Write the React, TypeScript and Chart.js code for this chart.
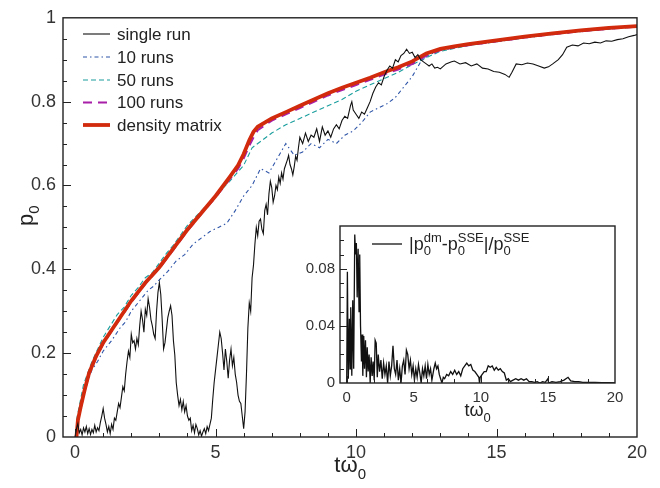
import React, { useEffect, useRef } from "react";
import { Chart, registerables } from "chart.js";
Chart.register(...registerables);

const FONT = "'Liberation Sans', Arial, Helvetica, sans-serif";
const TEXT = "#222";

// ---------- main chart data ----------
const mainXTicks = [0, 5, 10, 15, 20];
const mainXTickLabels = ["0", "5", "10", "15", "20"];
const mainYTicks = [0, 0.2, 0.4, 0.6, 0.8, 1];
const mainYTickLabels = ["0", "0.2", "0.4", "0.6", "0.8", "1"];

const seriesNames = ["single run", "10 runs", "50 runs", "100 runs", "density matrix"];

const singleX = [0, 0.05, 0.1, 0.15, 0.2, 0.25, 0.3, 0.35, 0.4, 0.45, 0.5, 0.55, 0.6, 0.65, 0.7, 0.75, 0.8, 0.85, 0.9, 0.95, 1.0, 1.05, 1.1, 1.15, 1.2, 1.25, 1.3, 1.35, 1.4, 1.45, 1.5, 1.55, 1.6, 1.65, 1.7, 1.75, 1.8, 1.85, 1.9, 1.95, 2.0, 2.05, 2.1, 2.15, 2.2, 2.25, 2.3, 2.35, 2.4, 2.45, 2.5, 2.55, 2.6, 2.65, 2.7, 2.75, 2.8, 2.85, 2.9, 2.95, 3.0, 3.05, 3.1, 3.15, 3.2, 3.25, 3.3, 3.35, 3.4, 3.45, 3.5, 3.55, 3.6, 3.65, 3.7, 3.75, 3.8, 3.85, 3.9, 3.95, 4.0, 4.05, 4.1, 4.15, 4.2, 4.25, 4.3, 4.35, 4.4, 4.45, 4.5, 4.55, 4.6, 4.65, 4.7, 4.75, 4.8, 4.85, 4.9, 4.95, 5.0, 5.05, 5.1, 5.15, 5.2, 5.25, 5.3, 5.35, 5.4, 5.45, 5.5, 5.55, 5.6, 5.65, 5.7, 5.75, 5.8, 5.85, 5.9, 5.95, 6.0, 6.05, 6.1, 6.15, 6.2, 6.25, 6.3, 6.35, 6.4, 6.45, 6.5, 6.55, 6.6, 6.65, 6.7, 6.75, 6.8, 6.85, 6.9, 6.95, 7.0, 7.05, 7.1, 7.15, 7.2, 7.25, 7.3, 7.35, 7.4, 7.45, 7.5, 7.55, 7.6, 7.65, 7.7, 7.75, 7.8, 7.85, 7.9, 7.95, 8.0, 8.1, 8.2, 8.3, 8.4, 8.5, 8.6, 8.7, 8.8, 8.9, 9.0, 9.1, 9.2, 9.3, 9.4, 9.5, 9.6, 9.7, 9.8, 9.85, 9.9, 10.0, 10.1, 10.2, 10.3, 10.4, 10.5, 10.6, 10.7, 10.8, 10.9, 11.0, 11.1, 11.2, 11.3, 11.4, 11.5, 11.6, 11.7, 11.8, 11.9, 12.0, 12.1, 12.2, 12.3, 12.4, 12.5, 12.6, 12.7, 12.8, 12.9, 13.0, 13.2, 13.4, 13.5, 13.7, 13.9, 14.1, 14.3, 14.5, 14.7, 14.9, 15.1, 15.3, 15.45, 15.55, 15.7, 15.9, 16.1, 16.3, 16.5, 16.7, 16.85, 17.0, 17.2, 17.35, 17.5, 17.7, 17.9, 18.1, 18.3, 18.5, 18.7, 18.9, 19.1, 19.3, 19.5, 19.7, 19.9, 20.0];
const singleY = [0.0, 0.02, 0.032, 0.01, 0.018, 0.005, 0.022, 0.012, 0.025, 0.008, 0.02, 0.006, 0.018, 0.01, 0.028, 0.012, 0.022, 0.015, 0.035, 0.05, 0.068, 0.045, 0.03, 0.012, 0.025, 0.008, 0.03, 0.018, 0.045, 0.04, 0.06, 0.08, 0.07, 0.095, 0.12, 0.11, 0.15, 0.18, 0.205, 0.19, 0.245, 0.225, 0.23, 0.21, 0.235, 0.22, 0.265, 0.3, 0.28, 0.25, 0.305, 0.29, 0.33, 0.31, 0.28, 0.265, 0.245, 0.235, 0.3, 0.345, 0.368, 0.34, 0.28, 0.21, 0.225, 0.255, 0.285, 0.3, 0.313, 0.29, 0.23, 0.195, 0.13, 0.1, 0.075, 0.09, 0.065, 0.085, 0.06, 0.075, 0.05, 0.04, 0.045, 0.015, 0.028, 0.01, 0.03, 0.02, 0.005, 0.015, 0.002, 0.012, 0.02, 0.008, 0.025, 0.015, 0.03, 0.045, 0.09, 0.13, 0.16, 0.19, 0.22, 0.25, 0.235, 0.2, 0.16, 0.21, 0.18, 0.14, 0.185, 0.21, 0.17, 0.19, 0.15, 0.13, 0.1, 0.085, 0.08, 0.05, 0.02, 0.06, 0.15, 0.26, 0.32, 0.3, 0.38, 0.41, 0.46, 0.5, 0.48, 0.515, 0.52, 0.495, 0.485, 0.54, 0.555, 0.53, 0.58, 0.61, 0.595, 0.56, 0.575, 0.6, 0.59, 0.62, 0.605, 0.63, 0.615, 0.64, 0.65, 0.66, 0.672, 0.65, 0.64, 0.625, 0.645, 0.67, 0.66, 0.69, 0.715, 0.7, 0.725, 0.705, 0.72, 0.715, 0.735, 0.705, 0.74, 0.72, 0.73, 0.715, 0.735, 0.745, 0.735, 0.755, 0.765, 0.76, 0.79, 0.8, 0.78, 0.77, 0.76, 0.775, 0.77, 0.785, 0.8, 0.82, 0.835, 0.845, 0.84, 0.86, 0.875, 0.885, 0.88, 0.9, 0.895, 0.91, 0.915, 0.925, 0.915, 0.918, 0.905, 0.912, 0.9, 0.895, 0.89, 0.885, 0.89, 0.88, 0.882, 0.878, 0.89, 0.895, 0.897, 0.89, 0.893, 0.885, 0.89, 0.88, 0.878, 0.872, 0.87, 0.865, 0.858, 0.87, 0.89, 0.888, 0.892, 0.89, 0.885, 0.88, 0.883, 0.89, 0.9, 0.912, 0.93, 0.935, 0.933, 0.94, 0.938, 0.942, 0.94, 0.945, 0.944, 0.948, 0.95, 0.955, 0.958, 0.96];

const run10X = [0.05, 0.3, 0.6, 0.8, 1, 1.3, 1.6, 1.8, 2, 2.3, 2.6, 2.8, 3, 3.3, 3.6, 3.9, 4.2, 4.5, 4.8, 5.1, 5.4, 5.7, 6, 6.3, 6.6, 6.9, 7.2, 7.5, 7.8, 8.1, 8.4, 8.7, 9, 9.3, 9.6, 9.9, 10.2, 10.5, 10.8, 11.1, 11.4, 11.7, 12, 12.3, 12.6, 13, 13.5, 14, 15, 16, 17, 18, 19, 20];
const run10Y = [0.02, 0.105, 0.16, 0.18, 0.205, 0.23, 0.26, 0.275, 0.3, 0.325, 0.35, 0.36, 0.375, 0.395, 0.42, 0.435, 0.46, 0.475, 0.49, 0.5, 0.51, 0.54, 0.575, 0.6, 0.64, 0.63, 0.665, 0.7, 0.672, 0.68, 0.7, 0.69, 0.71, 0.7, 0.72, 0.73, 0.75, 0.775, 0.785, 0.795, 0.81, 0.835, 0.86, 0.895, 0.912, 0.922, 0.929, 0.934, 0.943, 0.952, 0.96, 0.967, 0.973, 0.978];

const run50X = [0.05, 0.3, 0.6, 1, 1.25, 1.5, 1.75, 2, 2.25, 2.5, 2.75, 3, 3.25, 3.5, 4, 4.5, 5, 5.5, 6, 6.3, 6.6, 7, 7.5, 8, 8.5, 9, 9.5, 10, 10.5, 11, 11.5, 12, 12.5, 13, 14, 15, 16, 17, 18, 19, 20];
const run50Y = [0.04, 0.125, 0.18, 0.238, 0.265, 0.292, 0.31, 0.338, 0.357, 0.38, 0.392, 0.415, 0.438, 0.458, 0.505, 0.54, 0.575, 0.61, 0.648, 0.69, 0.705, 0.725, 0.745, 0.76, 0.775, 0.79, 0.805, 0.825, 0.84, 0.855, 0.87, 0.888, 0.905, 0.92, 0.934, 0.943, 0.953, 0.961, 0.968, 0.974, 0.979];

const run100X = [0.05, 0.1, 0.2, 0.35, 0.5, 0.75, 1, 1.5, 2, 2.5, 3, 3.5, 4, 4.5, 5, 5.5, 5.8, 6, 6.2, 6.35, 6.5, 7, 7.5, 8, 8.5, 9, 9.5, 10, 10.5, 11, 11.5, 12, 12.5, 13, 13.5, 14, 15, 16, 17, 18, 19, 20];
const run100Y = [0.0, 0.04, 0.07, 0.112, 0.15, 0.19, 0.222, 0.273, 0.322, 0.366, 0.403, 0.447, 0.492, 0.533, 0.572, 0.615, 0.64, 0.665, 0.695, 0.715, 0.732, 0.755, 0.77, 0.785, 0.8, 0.815, 0.828, 0.84, 0.852, 0.865, 0.877, 0.89, 0.91, 0.923, 0.93, 0.935, 0.944, 0.953, 0.961, 0.968, 0.974, 0.979];

const dmX = [0.05, 0.1, 0.2, 0.35, 0.5, 0.75, 1, 1.5, 2, 2.5, 3, 3.5, 4, 4.5, 5, 5.5, 5.8, 6, 6.2, 6.35, 6.5, 7, 7.5, 8, 8.5, 9, 9.5, 10, 10.5, 11, 11.5, 12, 12.5, 13, 13.5, 14, 15, 16, 17, 18, 19, 20];
const dmY = [0.0, 0.04, 0.072, 0.115, 0.153, 0.193, 0.225, 0.275, 0.325, 0.368, 0.405, 0.45, 0.495, 0.535, 0.575, 0.62, 0.648, 0.675, 0.708, 0.728, 0.74, 0.76, 0.775, 0.79, 0.805, 0.82, 0.833, 0.845, 0.857, 0.87, 0.882, 0.896, 0.915, 0.926, 0.932, 0.937, 0.946, 0.955, 0.963, 0.97, 0.976, 0.98];

// ---------- inset data ----------
const insetXTicks = [0, 5, 10, 15, 20];
const insetXTickLabels = ["0", "5", "10", "15", "20"];
const insetYTicks = [0, 0.04, 0.08];
const insetYTickLabels = ["0", "0.04", "0.08"];

const errX = [0.0, 0.05, 0.12, 0.2, 0.25, 0.3, 0.38, 0.45, 0.52, 0.6, 0.66, 0.72, 0.78, 0.85, 0.92, 0.97, 1.03, 1.1, 1.15, 1.2, 1.27, 1.33, 1.4, 1.47, 1.53, 1.6, 1.67, 1.75, 1.82, 1.9, 1.97, 2.05, 2.12, 2.2, 2.28, 2.35, 2.45, 2.55, 2.65, 2.75, 2.85, 2.95, 3.05, 3.15, 3.25, 3.35, 3.45, 3.55, 3.65, 3.75, 3.85, 3.95, 4.05, 4.15, 4.25, 4.35, 4.45, 4.55, 4.65, 4.75, 4.85, 4.95, 5.05, 5.15, 5.25, 5.35, 5.45, 5.55, 5.65, 5.75, 5.85, 5.95, 6.05, 6.15, 6.25, 6.35, 6.5, 6.6, 6.7, 6.8, 6.9, 7.0, 7.1, 7.2, 7.3, 7.45, 7.6, 7.75, 7.9, 8.05, 8.2, 8.35, 8.5, 8.65, 8.8, 8.95, 9.1, 9.25, 9.4, 9.55, 9.7, 9.85, 9.9, 9.95, 10.1, 10.25, 10.4, 10.55, 10.7, 10.85, 11.0, 11.15, 11.3, 11.45, 11.6, 11.75, 11.9, 12.05, 12.2, 12.4, 12.6, 12.8, 13.0, 13.2, 13.4, 13.6, 13.8, 14.0, 14.2, 14.4, 14.6, 14.8, 15.0, 15.05, 15.3, 15.6, 15.9, 16.2, 16.5, 16.7, 17.0, 17.3, 17.6, 18.0, 18.5, 19.0, 19.5, 20.0];
const errY = [0.0, 0.078, 0.003, 0.045, 0.01, 0.053, 0.005, 0.058, 0.01, 0.104, 0.09, 0.098, 0.06, 0.094, 0.05, 0.09, 0.04, 0.015, 0.034, 0.005, 0.033, 0.01, 0.03, 0.004, 0.025, 0.008, 0.02, 0.0, 0.018, 0.005, 0.015, 0.002, 0.03, 0.028, 0.004, 0.02, 0.008, 0.016, 0.003, 0.014, 0.006, 0.012, 0.0, 0.015, 0.005, 0.012, 0.026, 0.01, 0.006, 0.016, 0.002, 0.01, 0.0, 0.012, 0.016, 0.006, 0.023, 0.02, 0.01, 0.016, 0.006, 0.012, 0.002, 0.01, 0.004, 0.013, 0.007, 0.0, 0.01, 0.005, 0.012, 0.003, 0.013, 0.006, 0.01, 0.002, 0.01, 0.014, 0.01, 0.012, 0.006, 0.003, 0.0, 0.004, 0.003, 0.006, 0.005, 0.008, 0.006, 0.009, 0.006, 0.008, 0.005, 0.01, 0.012, 0.014, 0.012, 0.013, 0.009, 0.008, 0.006, 0.004, 0.0, 0.004, 0.006, 0.008, 0.008, 0.012, 0.011, 0.012, 0.009, 0.011, 0.009, 0.01, 0.008, 0.007, 0.002, 0.003, 0.001, 0.002, 0.003, 0.002, 0.003, 0.002, 0.003, 0.001, 0.001, 0.0005, 0.001, 0.0, 0.001, 0.0005, 0.003, 0.0, 0.001, 0.0005, 0.001, 0.002, 0.004, 0.0015, 0.001, 0.001, 0.0005, 0.0005, 0.0005, 0.0003, 0.0002, 0.0];

function pts(xs: number[], ys: number[]) {
  return xs.map((x, i) => ({ x, y: ys[i] }));
}

type Part = { t: string; size: number; dy: number; stackWith?: { t: string; size: number; dy: number } };

function drawParts(ctx: CanvasRenderingContext2D, parts: Part[], x: number, y: number) {
  let cx = x;
  for (const p of parts) {
    ctx.font = `${p.size}px ${FONT}`;
    ctx.fillText(p.t, cx, y + p.dy);
    let w = ctx.measureText(p.t).width;
    if (p.stackWith) {
      ctx.font = `${p.stackWith.size}px ${FONT}`;
      ctx.fillText(p.stackWith.t, cx, y + p.stackWith.dy);
      w = Math.max(w, ctx.measureText(p.stackWith.t).width);
    }
    cx += w;
  }
  return cx - x;
}

const framePlugin = {
  id: "frameTicks",
  beforeDraw(chart: any, _a: any, opts: any) {
    if (!opts.fill) return;
    const { ctx, chartArea: a } = chart;
    ctx.save();
    ctx.fillStyle = "#fff";
    ctx.fillRect(a.left, a.top, a.right - a.left, a.bottom - a.top);
    ctx.restore();
  },
  afterDatasetsDraw(chart: any, _a: any, opts: any) {
    const { ctx, chartArea: a } = chart;
    const xs = chart.scales.x;
    const ys = chart.scales.y;
    ctx.save();
    ctx.strokeStyle = "#222";
    ctx.lineWidth = 1.4;
    ctx.strokeRect(a.left, a.top, a.right - a.left, a.bottom - a.top);
    ctx.lineWidth = 1;
    const tickX = (v: number, len: number) => {
      const px = xs.getPixelForValue(v);
      if (px < a.left + 1 || px > a.right - 1) return;
      ctx.beginPath();
      ctx.moveTo(Math.round(px) + 0.5, a.bottom);
      ctx.lineTo(Math.round(px) + 0.5, a.bottom - len);
      ctx.stroke();
    };
    const tickY = (v: number, len: number) => {
      const py = ys.getPixelForValue(v);
      if (py < a.top + 1 || py > a.bottom - 1) return;
      ctx.beginPath();
      ctx.moveTo(a.left, Math.round(py) + 0.5);
      ctx.lineTo(a.left + len, Math.round(py) + 0.5);
      ctx.stroke();
    };
    for (let i = 0; i * opts.xMinor <= xs.max + 1e-9; i++) tickX(i * opts.xMinor, opts.minorLen);
    for (let i = 0; i * opts.yMinor <= ys.max + 1e-9; i++) tickY(i * opts.yMinor, opts.minorLen);
    xs.ticks.forEach((t: any) => tickX(t.value, opts.majorLen));
    ys.ticks.forEach((t: any) => tickY(t.value, opts.majorLen));
    ctx.restore();
  },
};

const mainDecor = {
  id: "mainDecor",
  afterDraw(chart: any) {
    const { ctx, chartArea: a } = chart;
    ctx.save();
    ctx.fillStyle = TEXT;
    const rows = [34, 57, 80, 102.5, 125];
    [0, 1, 2, 3, 4].forEach((di, i) => {
      const ds = chart.data.datasets[di];
      const y = rows[i];
      ctx.save();
      ctx.strokeStyle = ds.borderColor;
      ctx.lineWidth = ds.borderWidth;
      ctx.setLineDash(ds.borderDash || []);
      ctx.beginPath();
      ctx.moveTo(83, y);
      ctx.lineTo(110, y);
      ctx.stroke();
      ctx.restore();
      ctx.font = `17px ${FONT}`;
      ctx.fillStyle = TEXT;
      ctx.textBaseline = "middle";
      ctx.fillText(ds.label, 117, y + 1);
    });
    ctx.textBaseline = "alphabetic";
    const cx = (a.left + a.right) / 2;
    ctx.font = `22px ${FONT}`;
    const w = ctx.measureText("tω").width;
    drawParts(ctx, [
      { t: "tω", size: 22, dy: 0 },
      { t: "0", size: 15, dy: 7 },
    ], cx - (w + 8) / 2, 472);
    ctx.save();
    ctx.translate(33, 226);
    ctx.rotate(-Math.PI / 2);
    drawParts(ctx, [
      { t: "p", size: 22, dy: 0 },
      { t: "0", size: 15, dy: 6 },
    ], 0, 0);
    ctx.restore();
    ctx.restore();
  },
};

const insetDecor = {
  id: "insetDecor",
  afterDraw(chart: any) {
    const { ctx, chartArea: a } = chart;
    ctx.save();
    ctx.fillStyle = TEXT;
    ctx.strokeStyle = "#111";
    ctx.lineWidth = 1.3;
    ctx.beginPath();
    ctx.moveTo(372 - 285, 244 - 212);
    ctx.lineTo(402 - 285, 244 - 212);
    ctx.stroke();
    drawParts(ctx, [
      { t: "|p", size: 18, dy: 0 },
      { t: "0", size: 13, dy: 5, stackWith: { t: "dm", size: 13, dy: -8 } },
      { t: "-p", size: 18, dy: 0 },
      { t: "0", size: 13, dy: 5, stackWith: { t: "SSE", size: 13, dy: -8 } },
      { t: "|/p", size: 18, dy: 0 },
      { t: "0", size: 13, dy: 5, stackWith: { t: "SSE", size: 13, dy: -8 } },
    ], 409 - 285, 250 - 212);
    const cx = (a.left + a.right) / 2;
    ctx.font = `18px ${FONT}`;
    const w = ctx.measureText("tω").width;
    drawParts(ctx, [
      { t: "tω", size: 18, dy: 0 },
      { t: "0", size: 13, dy: 6 },
    ], cx - (w + 7) / 2, 204);
    ctx.restore();
  },
};

export default function App() {
  const mainRef = useRef<HTMLCanvasElement>(null);
  const insetRef = useRef<HTMLCanvasElement>(null);

  useEffect(() => {
    document.body.style.margin = "0";
    const mainChart = new Chart(mainRef.current as HTMLCanvasElement, {
      type: "line",
      data: {
        datasets: [
          { label: seriesNames[0], data: pts(singleX, singleY), borderColor: "#111", borderWidth: 1.1, order: 0 },
          { label: seriesNames[1], data: pts(run10X, run10Y), borderColor: "#2f55a8", borderWidth: 1.1, borderDash: [4, 3, 1.5, 3], order: 4 },
          { label: seriesNames[2], data: pts(run50X, run50Y), borderColor: "#1b9e9e", borderWidth: 1.1, borderDash: [5, 3], order: 3 },
          { label: seriesNames[3], data: pts(run100X, run100Y), borderColor: "#a81fa8", borderWidth: 2.2, borderDash: [9, 6], order: 2 },
          { label: seriesNames[4], data: pts(dmX, dmY), borderColor: "#d12a0c", borderWidth: 3.8, order: 1 },
        ] as any,
      },
      options: {
        animation: false,
        responsive: false,
        events: [],
        layout: { padding: { top: 10, right: 23, left: 0, bottom: 0 } },
        elements: { point: { radius: 0 }, line: { tension: 0 } },
        plugins: {
          legend: { display: false },
          tooltip: { enabled: false },
          frameTicks: { xMinor: 1, yMinor: 0.05, majorLen: 8, minorLen: 4 },
        } as any,
        scales: {
          x: {
            type: "linear",
            min: -0.43,
            max: 20,
            grid: { display: false, drawTicks: false },
            border: { display: false },
            afterBuildTicks: (s: any) => { s.ticks = mainXTicks.map((v) => ({ value: v })); },
            afterFit: (s: any) => { s.height = 51; },
            ticks: {
              padding: 5,
              color: "#333",
              font: { family: FONT, size: 18 },
              maxRotation: 0,
              callback: (v: any) => mainXTickLabels[mainXTicks.indexOf(Number(v))] ?? "",
            },
          },
          y: {
            type: "linear",
            min: 0,
            max: 1,
            grid: { display: false, drawTicks: false },
            border: { display: false },
            afterBuildTicks: (s: any) => { s.ticks = mainYTicks.map((v) => ({ value: v })); },
            afterFit: (s: any) => { s.width = 63; },
            ticks: {
              padding: 7,
              color: "#333",
              font: { family: FONT, size: 18 },
              callback: (v: any) => mainYTickLabels[mainYTicks.indexOf(Number(v))] ?? "",
            },
          },
        },
      },
      plugins: [framePlugin, mainDecor],
    });

    const insetChart = new Chart(insetRef.current as HTMLCanvasElement, {
      type: "line",
      data: {
        datasets: [
          { label: "err", data: pts(errX, errY), borderColor: "#111", borderWidth: 1.3 },
        ] as any,
      },
      options: {
        animation: false,
        responsive: false,
        events: [],
        layout: { padding: { top: 10, right: 15, left: 0, bottom: 0 } },
        elements: { point: { radius: 0 }, line: { tension: 0 } },
        plugins: {
          legend: { display: false },
          tooltip: { enabled: false },
          frameTicks: { xMinor: 2, yMinor: 0.01, majorLen: 7, minorLen: 4, fill: true },
        } as any,
        scales: {
          x: {
            type: "linear",
            min: -0.5,
            max: 20,
            grid: { display: false, drawTicks: false },
            border: { display: false },
            afterBuildTicks: (s: any) => { s.ticks = insetXTicks.map((v) => ({ value: v })); },
            afterFit: (s: any) => { s.height = 44; },
            ticks: {
              padding: 6,
              color: "#333",
              font: { family: FONT, size: 15 },
              maxRotation: 0,
              callback: (v: any) => insetXTickLabels[insetXTicks.indexOf(Number(v))] ?? "",
            },
          },
          y: {
            type: "linear",
            min: 0,
            max: 0.11,
            grid: { display: false, drawTicks: false },
            border: { display: false },
            afterBuildTicks: (s: any) => { s.ticks = insetYTicks.map((v) => ({ value: v })); },
            afterFit: (s: any) => { s.width = 55; },
            ticks: {
              padding: 5,
              color: "#333",
              font: { family: FONT, size: 15 },
              callback: (v: any) => insetYTickLabels[insetYTicks.indexOf(Number(v))] ?? "",
            },
          },
        },
      },
      plugins: [framePlugin, insetDecor],
    });

    return () => {
      mainChart.destroy();
      insetChart.destroy();
    };
  }, []);

  return (
    <div style={{ position: "relative", width: 660, height: 488, background: "#fff" }}>
      <canvas ref={mainRef} width={660} height={488} style={{ position: "absolute", left: 0, top: 0, width: 660, height: 488 }} />
      <canvas ref={insetRef} width={345} height={215} style={{ position: "absolute", left: 285, top: 212, width: 345, height: 215 }} />
    </div>
  );
}
